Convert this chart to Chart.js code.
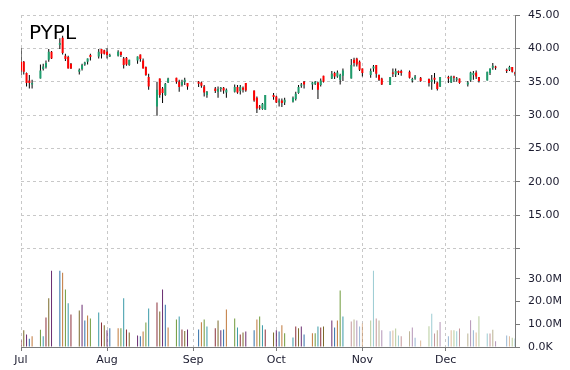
<!DOCTYPE html>
<html>
<head>
<meta charset="utf-8">
<script src="https://cdn.jsdelivr.net/npm/chart.js@4.4.0/dist/chart.umd.min.js"></script>
<style>
  html, body { margin: 0; padding: 0; background: #fff; }
</style>
</head>
<body>
<canvas id="chart" width="570" height="370"></canvas>
<script>
// PYPL daily prices, Jul 6 - Dec 31 2015
const symbol = 'PYPL';

const dates = [
  '07-06','07-07','07-08','07-09','07-10','07-13','07-14','07-15','07-16','07-17',
  '07-20','07-21','07-22','07-23','07-24','07-27','07-28','07-29','07-30','07-31',
  '08-03','08-04','08-05','08-06','08-07','08-10','08-11','08-12','08-13','08-14',
  '08-17','08-18','08-19','08-20','08-21','08-24','08-25','08-26','08-27','08-28','08-31',
  '09-01','09-02','09-03','09-04','09-08','09-09','09-10','09-11','09-14','09-15',
  '09-16','09-17','09-18','09-21','09-22','09-23','09-24','09-25','09-28','09-29','09-30',
  '10-01','10-02','10-05','10-06','10-07','10-08','10-09','10-12','10-13','10-14','10-15',
  '10-16','10-19','10-20','10-21','10-22','10-23','10-26','10-27','10-28','10-29','10-30',
  '11-02','11-03','11-04','11-05','11-06','11-09','11-10','11-11','11-12','11-13',
  '11-16','11-17','11-18','11-19','11-20','11-23','11-24','11-25','11-27','11-30',
  '12-01','12-02','12-03','12-04','12-07','12-08','12-09','12-10','12-11','12-14','12-15',
  '12-16','12-17','12-18','12-21','12-22','12-23','12-24','12-28','12-29','12-30','12-31'
];

const open = [
  38.0,38.0,36.3,35.2,34.6,35.5,36.9,37.2,38.3,39.5,
  40.5,41.6,38.9,38.7,37.7,36.5,36.9,37.6,38.0,39.0,
  38.8,39.9,39.7,39.5,38.8,38.9,39.5,38.5,38.6,37.5,
  38.2,39.1,38.2,37.2,35.7,31.3,35.5,34.0,33.0,34.9,35.6,
  35.0,34.5,35.0,34.8,35.0,34.9,34.3,33.0,34.0,33.5,
  33.9,34.1,33.4,33.5,34.2,33.6,34.1,34.8,33.7,32.6,31.3,
  30.9,30.8,33.0,32.8,31.9,32.2,31.9,32.0,32.4,33.3,34.4,
  35.0,34.6,34.7,34.9,34.5,35.9,35.5,36.3,35.8,35.3,35.9,
  35.5,38.3,38.5,38.0,37.0,36.0,37.0,37.5,36.0,35.5,
  34.5,36.4,36.1,36.6,36.6,36.5,35.2,35.5,35.6,35.4,
  35.0,35.6,34.9,34.3,35.7,34.9,35.8,35.3,35.5,34.6,35.2,
  36.0,36.4,35.7,35.2,36.3,37.1,37.3,36.8,36.8,37.2,36.4
];
const high = [
  40.0,38.1,36.4,36.0,35.3,37.6,37.7,38.2,39.9,39.6,
  41.5,41.9,39.2,38.9,37.8,37.0,37.7,38.0,38.5,39.2,
  39.9,39.9,39.8,40.0,39.2,39.7,39.5,38.7,38.7,38.3,
  38.8,39.1,38.5,37.3,36.2,35.0,35.5,34.2,34.8,35.6,35.6,
  35.3,35.3,35.6,34.8,35.1,35.0,34.5,33.6,34.2,34.3,
  34.2,34.2,34.0,34.6,34.5,34.5,34.3,34.8,33.7,32.8,31.5,
  31.8,33.0,33.3,32.9,32.5,32.5,32.6,32.8,33.5,34.5,34.8,
  35.1,35.0,35.1,35.0,35.5,35.9,36.6,36.5,36.7,36.2,37.0,
  38.4,38.6,38.6,38.2,37.0,37.0,37.5,37.5,36.1,35.6,
  35.7,37.0,37.0,36.7,36.8,36.7,35.6,36.0,35.7,35.5,
  36.0,36.3,35.0,35.7,35.9,35.9,35.9,35.7,35.5,35.1,36.5,
  36.6,36.7,35.7,36.5,37.0,37.8,37.4,37.0,37.4,37.2,36.5
];
const low = [
  36.0,36.1,34.3,34.0,34.0,35.5,36.7,37.0,38.0,38.4,
  39.9,39.1,38.1,37.0,36.9,36.1,36.7,37.4,37.6,38.2,
  38.5,38.5,39.1,38.5,38.7,38.8,38.7,37.0,37.4,37.4,
  37.7,38.0,37.0,35.9,33.8,29.9,32.6,31.8,32.9,34.8,34.7,
  33.5,34.3,34.5,33.8,34.2,34.1,32.8,32.6,33.3,32.6,
  33.5,33.2,32.6,33.4,33.2,33.1,33.4,33.5,32.0,30.3,30.8,
  30.8,30.8,32.3,31.8,31.3,31.2,31.5,31.9,32.2,33.2,34.1,
  34.0,33.8,34.5,32.4,34.3,34.9,35.4,35.4,35.6,34.6,35.1,
  35.5,37.3,37.3,36.6,35.8,35.6,36.5,35.6,35.1,34.5,
  34.5,35.7,35.7,36.0,35.9,35.5,34.9,35.3,35.0,34.3,
  33.8,34.7,33.7,34.2,34.8,34.8,35.0,35.0,34.7,34.3,35.0,
  35.3,35.4,34.9,35.2,36.0,36.8,36.8,36.3,36.6,36.4,35.9
];
const close = [
  36.7,36.5,34.8,34.8,34.8,36.7,37.3,37.8,39.5,38.5,
  40.8,39.3,38.4,37.0,37.0,36.8,37.5,37.9,38.5,38.7,
  39.5,39.2,39.2,39.0,39.0,39.5,39.0,37.5,37.6,38.3,
  38.8,38.4,37.0,36.0,34.3,33.8,33.0,33.3,34.7,35.5,35.0,
  34.2,35.0,35.3,34.3,34.7,34.4,33.4,33.5,33.6,33.9,
  34.1,33.7,33.8,34.2,33.4,34.2,33.8,33.7,32.2,31.0,31.1,
  31.7,33.0,32.7,31.9,32.2,31.8,32.3,32.6,33.2,34.2,34.6,
  34.6,34.9,35.0,33.8,35.2,35.0,36.2,35.8,36.4,36.0,36.7,
  37.5,37.8,37.6,36.8,36.3,36.6,37.3,36.2,35.3,34.6,
  35.7,36.2,36.6,36.3,36.3,35.6,35.4,35.8,35.1,34.8,
  35.3,35.3,33.9,35.7,35.5,35.8,35.6,35.5,34.8,34.9,36.4,
  36.3,35.8,35.1,36.5,37.0,37.4,37.1,36.6,37.2,36.5,36.2
];
// volume in millions of shares
const volume = [
  3.0,7.3,5.5,3.6,4.7,7.6,4.7,13.0,21.4,33.5,
  33.5,32.6,25.2,19.2,14.3,16.0,18.6,11.6,13.8,12.5,
  15.1,10.8,9.5,7.3,8.2,8.2,8.2,21.4,7.7,6.4,
  5.1,4.7,6.8,10.8,16.9,19.5,15.6,25.2,18.6,8.6,12.1,
  13.4,7.7,7.0,7.7,7.7,10.9,12.1,9.0,8.2,11.6,
  7.3,7.7,16.5,12.5,8.6,5.5,6.4,6.8,7.3,12.1,13.4,
  9.5,7.7,6.4,7.3,6.8,9.5,6.0,4.2,9.0,8.2,9.0,
  5.5,6.0,6.0,9.0,8.6,9.0,11.6,8.6,11.6,24.8,13.4,
  11.2,12.1,11.6,9.0,10.3,11.6,33.5,12.5,11.6,7.3,
  6.9,7.2,8.1,5.1,4.7,6.9,8.6,4.1,2.9,9.1,
  14.6,5.9,7.3,11.0,4.7,7.3,7.3,6.9,8.1,5.9,11.7,
  7.3,6.4,13.5,5.9,5.9,7.6,2.5,5.0,4.7,4.1,3.7
];

const monthTicks = ['07-06','08-06','09-06','10-06','11-06','12-06'];
const monthLabels = ['Jul','Aug','Sep','Oct','Nov','Dec'];
const priceTicks = [10, 15, 20, 25, 30, 35, 40, 45];
const volumeTicks = [0, 10, 20, 30];

const UP = '#1f9e6e';
const DOWN = '#ff0000';
const GRID = '#c8c8c8';
const AXIS = '#7a7a7a';
const TEXT = '#1b1b2f';
const volPalette = ['#8c2f39', '#7a6a2a', '#6a2c70', '#2f6ea8', '#c0773a', '#6f9a3a', '#3a9aa8'];
const volPaletteLight = ['rgba(140,47,57,0.5)', 'rgba(122,106,42,0.5)', 'rgba(106,44,112,0.5)',
  'rgba(47,110,168,0.5)', 'rgba(192,119,58,0.5)', 'rgba(111,154,58,0.5)', 'rgba(58,154,168,0.5)'];

const DAY = 86400000;
const start = Date.UTC(2015, 6, 6);
function dayOf(md) {
  const [m, d] = md.split('-').map(Number);
  return (Date.UTC(2015, m - 1, d) - start) / DAY;
}
const xs = dates.map(dayOf);
const lastDay = dayOf('12-31');
const novStart = dayOf('11-01');

const wickData = xs.map((x, i) => ({ x, y: [low[i], high[i]] }));
const bodyData = xs.map((x, i) => ({ x, y: [open[i], close[i]] }));
const volData = xs.map((x, i) => ({ x, y: volume[i] }));

const titlePlugin = {
  id: 'symbolTitle',
  afterDraw(chart) {
    const ctx = chart.ctx;
    ctx.save();
    ctx.font = '20px "DejaVu Sans"';
    ctx.fillStyle = '#000';
    ctx.textBaseline = 'alphabetic';
    ctx.fillText(symbol, 29, 39);
    ctx.restore();
  }
};

const tickFont = { family: 'DejaVu Sans', size: 11 };

new Chart(document.getElementById('chart').getContext('2d'), {
  type: 'bar',
  data: {
    datasets: [
      {
        data: bodyData,
        yAxisID: 'y',
        barThickness: 2,
        inflateAmount: 0,
        grouped: false,
        order: 0,
        backgroundColor: c => (c.raw && c.raw.y[1] >= c.raw.y[0]) ? UP : DOWN
      },
      {
        data: wickData,
        yAxisID: 'y',
        barThickness: 1,
        inflateAmount: 0,
        grouped: false,
        order: 1,
        backgroundColor: '#000'
      },
      {
        data: volData,
        yAxisID: 'yv',
        barThickness: 1,
        inflateAmount: 0,
        grouped: false,
        order: 2,
        backgroundColor: c => {
          const x = c.raw ? c.raw.x : 0;
          const pal = x >= novStart ? volPaletteLight : volPalette;
          return pal[c.dataIndex % pal.length];
        }
      }
    ]
  },
  options: {
    responsive: false,
    animation: false,
    devicePixelRatio: 1,
    layout: { padding: { left: 21, top: 15, right: 0, bottom: 0 } },
    plugins: { legend: { display: false }, tooltip: { enabled: false } },
    scales: {
      x: {
        type: 'linear',
        min: 0,
        max: lastDay,
        offset: false,
        afterBuildTicks: s => { s.ticks = monthTicks.map(m => ({ value: dayOf(m) })); },
        afterFit: s => { s.height = 23; },
        ticks: {
          autoSkip: false,
          maxRotation: 0,
          padding: 3,
          color: TEXT,
          font: tickFont,
          callback: (v, i) => monthLabels[i]
        },
        grid: { offset: false, color: GRID, tickColor: AXIS, tickLength: 4 },
        border: { color: AXIS, dash: [3, 3] }
      },
      y: {
        type: 'linear',
        position: 'right',
        stack: 'panes',
        stackWeight: 233.6,
        min: 10,
        max: 45,
        afterBuildTicks: s => { s.ticks = priceTicks.map(v => ({ value: v })); },
        afterFit: s => { s.width = 55; },
        ticks: {
          padding: 8,
          color: TEXT,
          font: tickFont,
          callback: v => v === 10 ? '' : v.toFixed(2)
        },
        grid: { color: GRID, tickColor: AXIS, tickLength: 5 },
        border: { color: AXIS, dash: [3, 3] }
      },
      yv: {
        type: 'linear',
        position: 'right',
        stack: 'panes',
        stackWeight: 98.4,
        min: 0,
        max: 43.2,
        afterBuildTicks: s => { s.ticks = volumeTicks.map(v => ({ value: v })); },
        afterFit: s => { s.width = 55; },
        ticks: {
          padding: 8,
          color: TEXT,
          font: tickFont,
          callback: v => v === 0 ? '0.0K' : v.toFixed(1) + 'M'
        },
        grid: { drawOnChartArea: false, tickColor: AXIS, tickLength: 5 },
        border: { color: AXIS }
      }
    }
  },
  plugins: [titlePlugin]
});
</script>
</body>
</html>
